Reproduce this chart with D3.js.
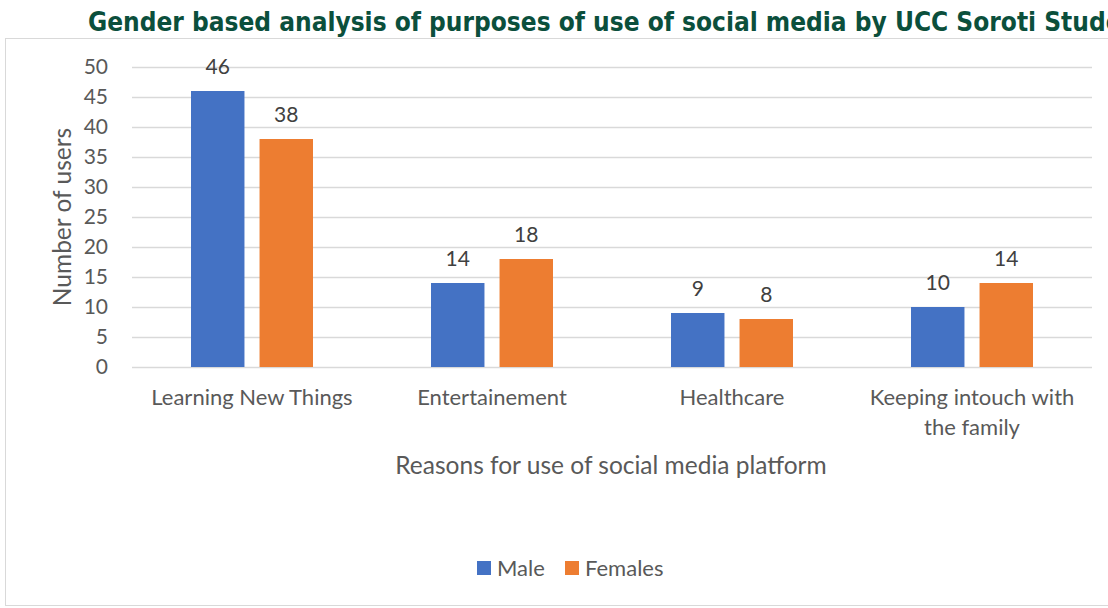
<!DOCTYPE html>
<html>
<head>
<meta charset="utf-8">
<script src="https://cdn.jsdelivr.net/npm/d3@7"></script>
<style>
  body { margin: 0; background: #fff; }
  svg { display: block; font-family: Lato, sans-serif; }
</style>
</head>
<body>
<div id="chart"></div>
<script>
const categories = [
  ["Learning New Things"],
  ["Entertainement"],
  ["Healthcare"],
  ["Keeping intouch with", "the family"],
];
const seriesNames = ["Male", "Females"];
const maleValues = [46, 14, 9, 10];
const femaleValues = [38, 18, 8, 14];
const yTicks = [0, 5, 10, 15, 20, 25, 30, 35, 40, 45, 50];

const W = 1108, H = 608;
const colors = ["#4472C4", "#ED7D31"];
const plot = { left: 132, right: 1092, top: 67, bottom: 367 };

const svg = d3.select("#chart").append("svg")
  .attr("width", W)
  .attr("height", H);

// chart frame
svg.append("rect")
  .attr("x", 5.5).attr("y", 38.5)
  .attr("width", 1120).attr("height", 567)
  .attr("fill", "#fff")
  .attr("stroke", "#d9d9d9");

svg.append("text")
  .attr("x", 88).attr("y", 31)
  .attr("fill", "#0B4F3C")
  .attr("font-family", "'DejaVu Sans Condensed', 'DejaVu Sans', sans-serif")
  .attr("font-weight", "bold")
  .attr("font-size", 26)
  .text("Gender based analysis of purposes of use of social media by UCC Soroti Students");

const x0 = d3.scaleBand()
  .domain(d3.range(categories.length))
  .range([plot.left, plot.right]);

const x1 = d3.scaleBand()
  .domain(seriesNames)
  .range([0, 122])
  .paddingInner(0.22);

const y = d3.scaleLinear().domain([0, 50]).range([plot.bottom, plot.top]);

// gridlines + y labels
const yAxis = d3.axisLeft(y)
  .tickValues(yTicks)
  .tickSize(-(plot.right - plot.left))
  .tickPadding(24);

const gy = svg.append("g")
  .attr("transform", `translate(${plot.left},0)`)
  .call(yAxis);
gy.select(".domain").remove();
gy.selectAll(".tick line").attr("stroke", "#d9d9d9").attr("stroke-width", 1.3);
gy.selectAll(".tick text")
  .attr("fill", "#595959")
  .attr("font-size", 21)
  .attr("font-family", "Lato, sans-serif");

const rows = d3.range(categories.length).map(i => [maleValues[i], femaleValues[i]]);

const groups = svg.append("g").selectAll("g")
  .data(rows)
  .join("g")
  .attr("transform", (d, i) => `translate(${x0(i) + x0.bandwidth() / 2 - 61},0)`);

groups.selectAll("rect")
  .data(d => d.map((v, j) => ({ v, name: seriesNames[j], j })))
  .join("rect")
  .attr("x", d => x1(d.name))
  .attr("y", d => y(d.v))
  .attr("width", x1.bandwidth())
  .attr("height", d => y(0) - y(d.v))
  .attr("fill", d => colors[d.j]);

groups.selectAll("text.val")
  .data(d => d.map((v, j) => ({ v, name: seriesNames[j], j })))
  .join("text")
  .attr("class", "val")
  .attr("x", d => x1(d.name) + x1.bandwidth() / 2)
  .attr("y", d => y(d.v) - 17)
  .attr("text-anchor", "middle")
  .attr("fill", "#404040")
  .attr("font-size", 21)
  .text(d => d.v);

// category labels
svg.append("g").selectAll("text")
  .data(categories)
  .join("text")
  .attr("x", (d, i) => x0(i) + x0.bandwidth() / 2)
  .attr("y", 405)
  .attr("text-anchor", "middle")
  .attr("fill", "#595959")
  .attr("font-size", 22)
  .each(function (d) {
    const t = d3.select(this);
    d.forEach((line, k) => {
      t.append("tspan")
        .attr("x", t.attr("x"))
        .attr("dy", k === 0 ? 0 : 30)
        .text(line);
    });
  });

svg.append("text")
  .attr("x", 611).attr("y", 474)
  .attr("text-anchor", "middle")
  .attr("fill", "#595959")
  .attr("font-size", 24.5)
  .text("Reasons for use of social media platform");

svg.append("text")
  .attr("transform", "translate(71,217) rotate(-90)")
  .attr("text-anchor", "middle")
  .attr("fill", "#595959")
  .attr("font-size", 24.5)
  .text("Number of users");

// legend
const legendX = [477, 565];
const lg = svg.append("g").selectAll("g")
  .data(seriesNames)
  .join("g")
  .attr("transform", (d, i) => `translate(${legendX[i]},561)`);
lg.append("rect")
  .attr("width", 14).attr("height", 14)
  .attr("fill", (d, i) => colors[i]);
lg.append("text")
  .attr("x", 20).attr("y", 15)
  .attr("fill", "#595959")
  .attr("font-size", 22)
  .text(d => d);
</script>
</body>
</html>
